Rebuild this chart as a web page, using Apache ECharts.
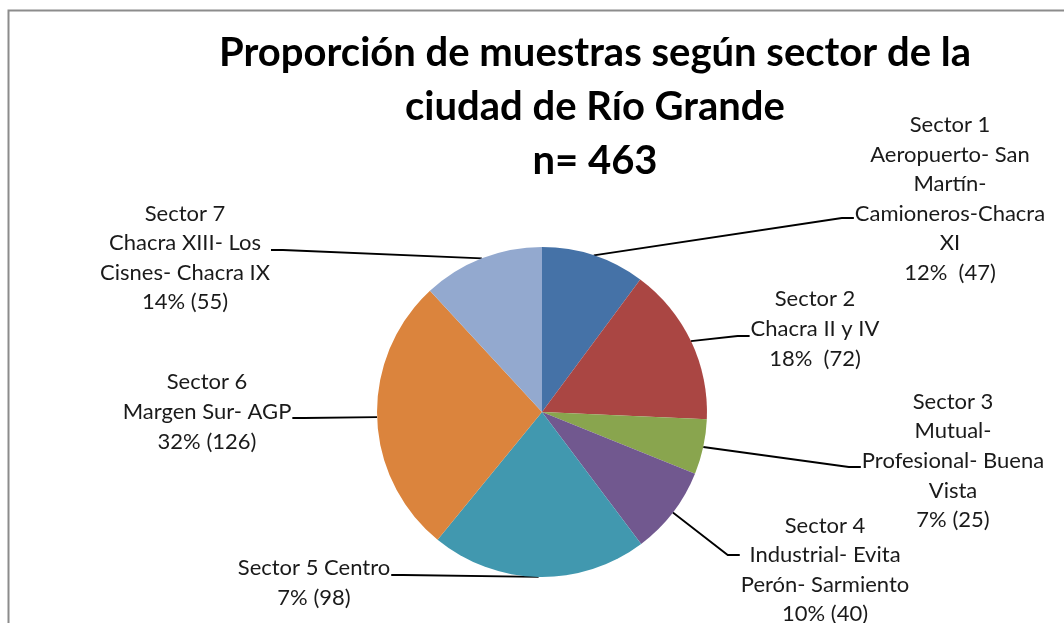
<!DOCTYPE html>
<html>
<head>
<meta charset="utf-8">
<script src="https://cdn.jsdelivr.net/npm/echarts@6/dist/echarts.min.js"></script>
<style>
html, body { margin: 0; padding: 0; background: #fff; }
#chart { width: 1064px; height: 623px; }
</style>
</head>
<body>
<div id="chart"></div>
<script>
// datos
var labelTexts = [
    'Sector 1\nAeropuerto- San\nMartín-\nCamioneros-Chacra\nXI',
    'Sector 2\nChacra II y IV',
    'Sector 3\nMutual-\nProfesional- Buena\nVista',
    'Sector 4\nIndustrial- Evita\nPerón- Sarmiento',
    'Sector 5 Centro',
    'Sector 6\nMargen Sur- AGP',
    'Sector 7\nChacra XIII- Los\nCisnes- Chacra IX'
];
var counts = [47, 72, 25, 40, 98, 126, 55];
var shareTexts = ['12%  (47)', '18%  (72)', '7% (25)', '10% (40)', '7% (98)', '32% (126)', '14% (55)'];

// donde van las etiquetas (centro del bloque) y donde llega la linea
var labelSpots = [[950, 199], [815, 329], [953, 461], [825, 570], [314, 583], [207, 412], [185, 258]];
var leaderDy = [19, 7, 6, -15, -8, 6, -8];
var colors = ['#4572A7', '#AA4643', '#89A54E', '#71588F', '#4198AF', '#DB843D', '#93A9CF'];

var pieData = counts.map(function (v, i) {
    return { value: v, name: labelTexts[i] + '\n' + shareTexts[i] };
});

var myChart = echarts.init(document.getElementById('chart'));
var option = {
    animation: false,
    color: colors,
    title: {
        text: 'Proporción de muestras según sector de la\nciudad de Río Grande\nn= 463',
        left: 590,
        top: 21,
        textAlign: 'center',
        textStyle: {
            fontFamily: 'Lato',
            fontWeight: 'bold',
            fontSize: 40,
            lineHeight: 54,
            color: '#000'
        }
    },
    graphic: [{
        type: 'rect',
        z: -1,
        shape: { x: 8.5, y: 10.5, width: 1200, height: 800 },
        style: { fill: 'none', stroke: '#8c8c8c', lineWidth: 2 }
    }],
    series: [{
        type: 'pie',
        center: [542, 412],
        radius: 165,
        startAngle: 90,
        clockwise: true,
        avoidLabelOverlap: false,
        data: pieData,
        itemStyle: { borderWidth: 0 },
        label: {
            show: true,
            position: 'outside',
            formatter: '{b}',
            fontFamily: 'Lato',
            fontSize: 22,
            lineHeight: 29.6,
            color: '#1a1a1a',
            align: 'center'
        },
        labelLine: {
            show: true,
            length: 20,
            length2: 10,
            lineStyle: { color: '#000', width: 1.8 }
        },
        labelLayout: function (p) {
            var i = p.dataIndex;
            var cx = labelSpots[i][0], cy = labelSpots[i][1];
            var w = p.labelRect.width;
            var onLeft = cx < 542;
            var ex = onLeft ? cx + w / 2 + 1 : cx - w / 2 - 1;
            var ey = cy + leaderDy[i];
            var bx = onLeft ? ex + 12 : ex - 12;
            var start = p.labelLinePoints ? p.labelLinePoints[0] : [bx, ey];
            return {
                x: cx,
                y: cy,
                align: 'center',
                verticalAlign: 'middle',
                labelLinePoints: [start, [bx, ey], [ex, ey]]
            };
        },
        emphasis: { disabled: true }
    }]
};

// dibujar
myChart.setOption(option);
</script>
</body>
</html>
